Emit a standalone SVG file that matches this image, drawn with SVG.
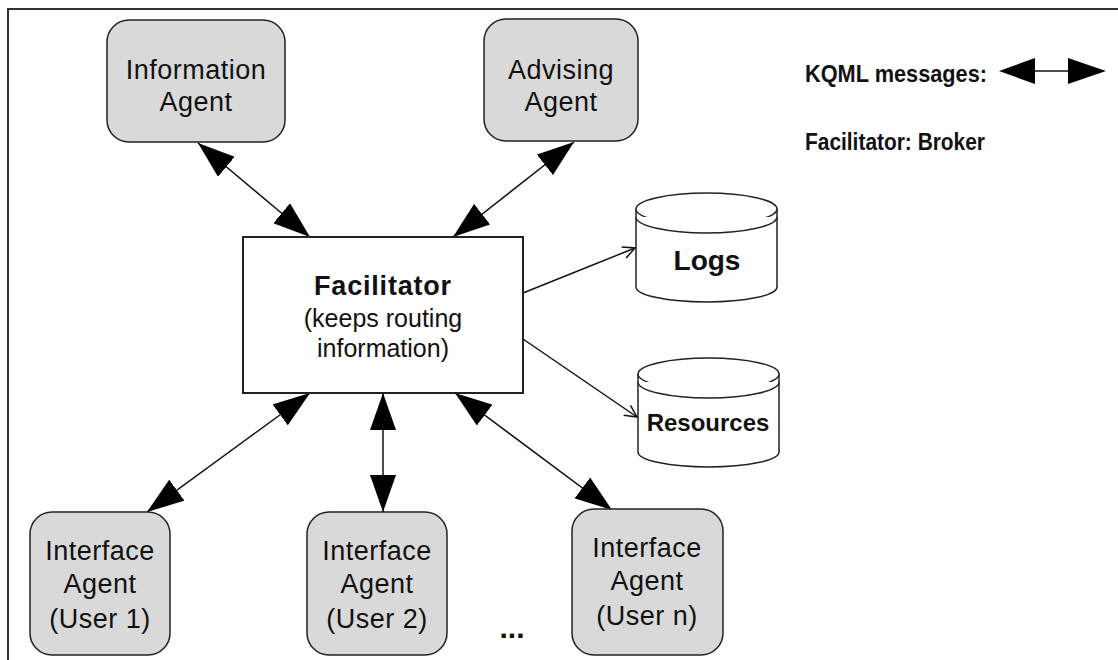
<svg xmlns="http://www.w3.org/2000/svg" width="1118" height="660" viewBox="0 0 1118 660">
<defs>
<style>
.agent{fill:#d9d9d9;stroke:#222;stroke-width:1.5}
.box{fill:#fff;stroke:#222;stroke-width:2}
.cyl{fill:#fff;stroke:#222;stroke-width:1.5}
.t{font-family:"Liberation Sans",Arial,sans-serif;fill:#111;text-anchor:middle}
.reg{font-size:27px;letter-spacing:0.5px}
.b{font-weight:bold}
.conn{stroke:#111;stroke-width:1.5;fill:none}
</style>
<marker id="big" viewBox="0 0 37 26" refX="37" refY="13" markerWidth="37" markerHeight="26" markerUnits="userSpaceOnUse" orient="auto-start-reverse">
<path d="M0,0 L37,13 L0,26 Z" fill="#000"/>
</marker>
<marker id="open" viewBox="0 0 14 14" refX="13" refY="7" markerWidth="14" markerHeight="14" markerUnits="userSpaceOnUse" orient="auto">
<path d="M1,1 L13,7 L1,13" fill="none" stroke="#111" stroke-width="1.5"/>
</marker>
</defs>
<rect width="1118" height="660" fill="#fff"/>
<path d="M8,660 V9 H1118" fill="none" stroke="#333" stroke-width="2"/>

<g id="connectors">
<line class="conn" x1="198" y1="143" x2="310" y2="237" marker-start="url(#big)" marker-end="url(#big)"/>
<line class="conn" x1="574" y1="142" x2="453" y2="237" marker-start="url(#big)" marker-end="url(#big)"/>
<line class="conn" x1="310" y1="393" x2="147" y2="512" marker-start="url(#big)" marker-end="url(#big)"/>
<line class="conn" x1="383" y1="393" x2="383" y2="512" marker-start="url(#big)" marker-end="url(#big)"/>
<line class="conn" x1="455" y1="393" x2="612" y2="510" marker-start="url(#big)" marker-end="url(#big)"/>
<line class="conn" x1="523" y1="293" x2="635" y2="248" marker-end="url(#open)"/>
<line class="conn" x1="523" y1="339" x2="637" y2="417" marker-end="url(#open)"/>
</g>

<g id="information-agent">
<rect class="agent" x="107" y="20" width="178" height="122" rx="22"/>
<text class="t reg" x="196" y="79">Information</text>
<text class="t reg" x="196" y="111">Agent</text>
</g>

<g id="advising-agent">
<rect class="agent" x="484" y="19" width="154" height="122" rx="22"/>
<text class="t reg" x="561" y="79">Advising</text>
<text class="t reg" x="561" y="111">Agent</text>
</g>

<g id="legend">
<text class="t b" x="805" y="82" font-size="24" textLength="182" lengthAdjust="spacingAndGlyphs" style="text-anchor:start">KQML messages:</text>
<line x1="1030" y1="71" x2="1072" y2="71" stroke="#111" stroke-width="1.5"/>
<path d="M999,71 L1035,58 L1035,84 Z" fill="#000"/>
<path d="M1106,71 L1068,58 L1068,84 Z" fill="#000"/>
<text class="t b" x="805" y="150" font-size="24" textLength="180" lengthAdjust="spacingAndGlyphs" style="text-anchor:start">Facilitator: Broker</text>
</g>

<g id="facilitator">
<rect class="box" x="243" y="237" width="280" height="156"/>
<text class="t b" x="383" y="295" font-size="27" letter-spacing="0.8">Facilitator</text>
<text class="t" x="383" y="327" font-size="25">(keeps routing</text>
<text class="t" x="383" y="357" font-size="25">information)</text>
</g>

<g id="logs">
<path class="cyl" d="M636,209 A70.5,16 0 0 1 777,209 V287 A70.5,15 0 0 1 636,287 Z"/>
<path class="cyl" d="M636,209 A70.5,16 0 0 0 777,209" fill="none"/>
<path class="cyl" d="M636,217 A70.5,16 0 0 0 777,217" fill="none"/>
<text class="t b" x="707" y="270" font-size="28">Logs</text>
</g>

<g id="resources">
<path class="cyl" d="M638,374 A70.5,16 0 0 1 779,374 V452 A70.5,15 0 0 1 638,452 Z"/>
<path class="cyl" d="M638,374 A70.5,16 0 0 0 779,374" fill="none"/>
<path class="cyl" d="M638,382 A70.5,16 0 0 0 779,382" fill="none"/>
<text class="t b" x="708" y="431" font-size="24">Resources</text>
</g>

<g id="interface-agent-1">
<rect class="agent" x="30" y="512" width="140" height="143" rx="22"/>
<text class="t reg" x="100" y="560">Interface</text>
<text class="t reg" x="100" y="593">Agent</text>
<text class="t reg" x="100" y="628">(User 1)</text>
</g>

<g id="interface-agent-2">
<rect class="agent" x="307" y="512" width="140" height="143" rx="22"/>
<text class="t reg" x="377" y="560">Interface</text>
<text class="t reg" x="377" y="593">Agent</text>
<text class="t reg" x="377" y="628">(User 2)</text>
</g>

<g id="interface-agent-n">
<rect class="agent" x="572" y="509" width="151" height="146" rx="22"/>
<text class="t reg" x="647" y="557">Interface</text>
<text class="t reg" x="647" y="590">Agent</text>
<text class="t reg" x="647" y="625">(User n)</text>
</g>

<g id="ellipsis">
<text class="t b" x="512" y="638" font-size="30">...</text>
</g>
</svg>
